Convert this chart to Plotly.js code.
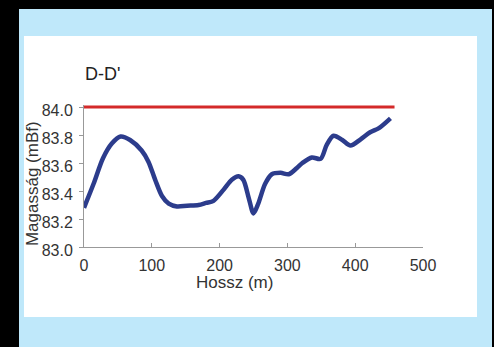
<!DOCTYPE html>
<html>
<head>
<meta charset="utf-8">
<script src="https://cdn.plot.ly/plotly-3.0.1.min.js"></script>
<style>
  html, body { margin:0; padding:0; width:494px; height:347px; overflow:hidden; background:#000; }
  #frame { position:absolute; left:19px; top:9px; width:473px; height:338px; background:#bfe8fa; }
  #chart { position:absolute; left:24px; top:36px; width:453px; height:281px; background:#fff; }
</style>
</head>
<body>
<div id="frame"></div>
<div id="chart"></div>
<script>
// Profile D-D'
const distance = [0, 14, 28, 41, 54, 68, 85, 95, 105, 115, 125, 137, 152, 169, 180, 191, 206, 218, 228, 235, 243, 250, 257, 267, 277, 290, 302, 314, 322, 336, 349, 358, 368, 381, 393, 408, 422, 435, 452];
const elevation = [83.28, 83.45, 83.635, 83.74, 83.79, 83.765, 83.69, 83.61, 83.48, 83.365, 83.31, 83.29, 83.295, 83.30, 83.315, 83.33, 83.41, 83.48, 83.505, 83.48, 83.35, 83.24, 83.31, 83.45, 83.52, 83.53, 83.52, 83.565, 83.60, 83.64, 83.63, 83.73, 83.795, 83.765, 83.725, 83.77, 83.82, 83.85, 83.92];
const refDistance = [0, 458];
const refLevel = [84.0, 84.0];
const xTicks = [0, 100, 200, 300, 400, 500];
const yTicks = [83.0, 83.2, 83.4, 83.6, 83.8, 84.0];

const traces = [
  { x: refDistance, y: refLevel, type: 'scatter', mode: 'lines',
    line: { color: '#d42a2a', width: 3 }, hoverinfo: 'skip' },
  { x: distance, y: elevation, type: 'scatter', mode: 'lines',
    line: { color: '#2c3c8c', width: 4.5, shape: 'spline', smoothing: 0.8 } }
];

const font = { family: 'Liberation Sans, Arial, sans-serif', color: '#333' };

const layout = {
  width: 453, height: 281,
  margin: { l: 60, r: 54, t: 69, b: 70 },
  paper_bgcolor: '#ffffff', plot_bgcolor: '#ffffff',
  showlegend: false,
  font: font,
  xaxis: {
    range: [0, 500], tickvals: xTicks, ticktext: xTicks.map(String),
    showgrid: false, zeroline: false, showline: true, linecolor: '#999', linewidth: 1,
    ticks: 'inside', ticklen: 4, tickcolor: '#999',
    tickfont: { family: font.family, size: 16, color: '#333' },
    ticklabelstandoff: 4
  },
  yaxis: {
    range: [83.0, 84.015], tickvals: yTicks, ticktext: yTicks.map(v => v.toFixed(1)),
    showgrid: false, zeroline: false, showline: true, linecolor: '#999', linewidth: 1,
    ticks: 'outside', ticklen: 4, tickcolor: '#999',
    tickfont: { family: font.family, size: 16, color: '#333' },
    ticklabelstandoff: 3, ticklabelshift: 3
  },
  annotations: [
    { text: "D-D'", xref: 'paper', yref: 'paper', x: -0.003, y: 1.215,
      xanchor: 'left', yanchor: 'middle', showarrow: false,
      font: { family: font.family, size: 18, color: '#222' } },
    { text: 'Hossz (m)', xref: 'paper', yref: 'paper', x: 0.445, y: -0.2535,
      xanchor: 'center', yanchor: 'middle', showarrow: false,
      font: { family: font.family, size: 17, color: '#333' } },
    { text: 'Magasság (mBf)', xref: 'paper', yref: 'paper', x: -0.150, y: 0.444,
      xanchor: 'center', yanchor: 'middle', textangle: -90, showarrow: false,
      font: { family: font.family, size: 17, color: '#333' } }
  ]
};

Plotly.newPlot('chart', traces, layout, { displayModeBar: false, staticPlot: true });
</script>
</body>
</html>
